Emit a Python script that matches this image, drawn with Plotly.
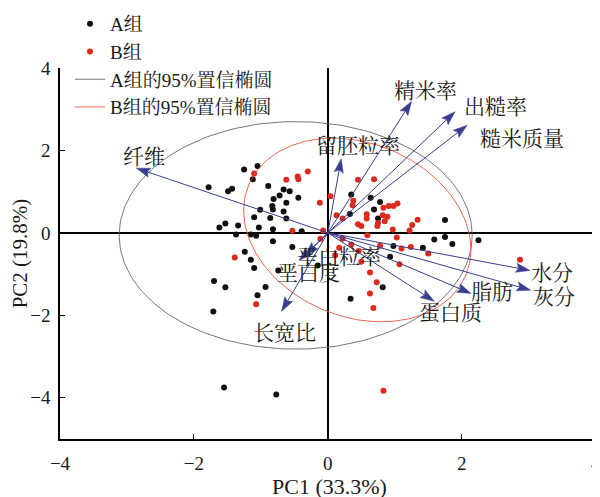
import numpy as np
import plotly.graph_objects as go

# ---------------- data ----------------
A_PC1 = [-1.78, -1.49, -1.43, -1.25, -1.05, -1.12, -0.89, -0.66, -0.57, -0.81,
         -0.72, -0.44, -0.83, -0.82, -1.01, -0.66, -0.86, -1.10, -0.62, -1.62,
         -1.53, -1.34, -1.03, -0.82, -1.37, -1.15, -1.07, -0.39, -0.82, -0.53,
         -1.24, -1.15, -1.10, -0.74, -0.93, -1.05, -1.70, -1.53, -1.71, -0.15,
         -0.62, 0.35, 0.64, 0.78, 0.69, 0.75, 0.33, 1.75, 1.59, 1.75,
         1.86, 1.42, 0.98, 0.93, 0.82, 0.34, 2.25, -1.55, -0.77]
A_PC2 = [1.11, 1.01, 1.07, 1.54, 1.62, 1.30, 1.14, 1.05, 1.01, 0.82,
         0.91, 0.85, 0.65, 0.57, 0.56, 0.52, 0.36, 0.38, 0.35, 0.13,
         0.23, 0.18, 0.13, 0.09, -0.04, -0.04, -0.07, 0.04, -0.20, -0.34,
         -0.46, -0.65, -0.85, -0.91, -1.31, -1.51, -1.17, -1.32, -1.91, -0.79,
         0.73, 0.93, 0.85, 0.75, 0.57, 0.35, 0.46, 0.31, -0.16, -0.10,
         -0.27, -0.36, -0.32, -0.58, -1.32, -1.60, -0.18, -3.75, -3.92]

B_PC1 = [-1.10, -0.62, -0.45, -0.44, -0.30, -0.12, -0.53, -1.39, -1.07, -0.11,
         0.04, 0.45, 0.69, 0.38, 0.37, 0.13, 0.22, 0.58, 0.58, 0.45,
         0.50, 0.75, 0.74, 0.85, 0.82, 0.83, 0.91, 0.98, 1.04, 0.89,
         0.97, 0.59, 1.03, 1.22, 1.26, 1.34, 0.78, 1.10, 1.24, 1.50,
         1.07, 0.17, 0.35, 0.46, 0.50, 0.63, 0.73, 0.63, 0.68, 0.11,
         2.87, 0.83, 0.22, -0.07]
B_PC2 = [1.44, 1.29, 1.37, 1.30, 1.49, 0.73, 0.05, -0.60, -1.73, -0.14,
         0.89, 1.29, 1.30, 0.78, 0.67, 0.43, 0.35, 0.45, 0.35, 0.21,
         0.17, 0.24, 0.17, 0.28, 0.43, 0.61, 0.65, 0.65, 0.71, 0.39,
         0.08, -0.06, -0.11, 0.06, 0.19, 0.32, -0.31, -0.38, -0.34, -0.50,
         -0.76, -0.36, -0.28, -0.44, -0.70, -0.96, -1.20, -1.47, -1.82, -0.54,
         -0.65, -3.83, -0.14, 0.06]

VAR_NAMES = ["纤维", "留胚粒率", "精米率", "出糙率", "糙米质量", "水分",
             "灰分", "脂肪", "蛋白质", "长宽比", "垩白粒率", "垩白度"]
VAR_PC1 = [-2.86, 0.20, 1.25, 1.90, 2.08, 3.02, 3.03, 2.14, 1.59, -0.69, -0.34, -0.43]
VAR_PC2 = [1.57, 1.80, 3.19, 2.94, 2.61, -0.91, -1.39, -1.47, -1.66, -1.90, -0.55, -0.67]

# 95% confidence ellipses: centre and covariance-like shape (sxx, syy, sxy)
ELL_A_CENTER = [-0.48, -0.06]
ELL_A_SHAPE = [6.95, 7.62, 0.0]
ELL_B_CENTER = [0.44, 0.07]
ELL_B_SHAPE = [2.88, 4.96, -0.80]

X_TICKS = [-4, -2, 0, 2, 4]
Y_TICKS = [-4, -2, 0, 2, 4]

# ---------------- styling / layout ----------------
W, H = 600, 497            # browser window
OFF = 8                    # default page body margin
ML, MR, MT, MB = 60, 1, 68, 58   # plot area margins in window pixels
XR = [-4, 4.05]
YR = [-5, 4]
KX = (W - ML - MR) / (XR[1] - XR[0])
KY = (H - MT - MB) / (YR[1] - YR[0])

SERIF = "Liberation Serif, 'Times New Roman', 'Noto Serif CJK SC', 'Noto Sans CJK SC', serif"
ARROW_COLOR = "#393f8e"

# label offsets (pixels) relative to arrow tip
LABEL_SHIFT = {
    "纤维": (8, 11), "留胚粒率": (17, 13), "精米率": (14, 10), "出糙率": (40, 5),
    "糙米质量": (55, -14), "水分": (22, -3), "灰分": (23, -7), "脂肪": (21, 1),
    "蛋白质": (16, -12), "长宽比": (3, -22), "垩白粒率": (34, -1), "垩白度": (9, -12),
}


def ellipse(center, shape, n=200):
    sxx, syy, sxy = shape
    l11 = np.sqrt(sxx)
    l21 = sxy / l11
    l22 = np.sqrt(syy - l21 ** 2)
    t = np.linspace(0, 2 * np.pi, n)
    return center[0] + l11 * np.cos(t), center[1] + l21 * np.cos(t) + l22 * np.sin(t)


fig = go.Figure()

fig.add_trace(go.Scatter(x=A_PC1, y=A_PC2, mode="markers", name="A组",
                         marker=dict(color="#111111", size=6)))
fig.add_trace(go.Scatter(x=B_PC1, y=B_PC2, mode="markers", name="B组",
                         marker=dict(color="#dd2a1f", size=6)))

ex, ey = ellipse(ELL_A_CENTER, ELL_A_SHAPE)
fig.add_trace(go.Scatter(x=ex, y=ey, mode="lines", name="A组的95%置信椭圆",
                         line=dict(color="#666666", width=0.9)))
ex, ey = ellipse(ELL_B_CENTER, ELL_B_SHAPE)
fig.add_trace(go.Scatter(x=ex, y=ey, mode="lines", name="B组的95%置信椭圆",
                         line=dict(color="#e9553f", width=0.9)))

# loading arrows
HEAD_L, HEAD_W, NOTCH = 14.0, 4.6, 2.5
lx, ly, hx, hy = [], [], [], []
for tx, ty in zip(VAR_PC1, VAR_PC2):
    px, py = tx * KX, ty * KY
    nrm = np.hypot(px, py)
    ux, uy = px / nrm, py / nrm
    nx, ny = -uy, ux
    bx, by = px - (HEAD_L - NOTCH) * ux, py - (HEAD_L - NOTCH) * uy
    lx += [0, bx / KX, None]
    ly += [0, by / KY, None]
    pts = [(px, py),
           (px - HEAD_L * ux + HEAD_W * nx, py - HEAD_L * uy + HEAD_W * ny),
           (bx, by),
           (px - HEAD_L * ux - HEAD_W * nx, py - HEAD_L * uy - HEAD_W * ny),
           (px, py)]
    hx += [p[0] / KX for p in pts] + [None]
    hy += [p[1] / KY for p in pts] + [None]

fig.add_trace(go.Scatter(x=lx, y=ly, mode="lines", showlegend=False, hoverinfo="skip",
                         line=dict(color=ARROW_COLOR, width=1)))
fig.add_trace(go.Scatter(x=hx, y=hy, mode="lines", fill="toself", fillcolor=ARROW_COLOR,
                         showlegend=False, hoverinfo="skip",
                         line=dict(color=ARROW_COLOR, width=0.5)))

for name, tx, ty in zip(VAR_NAMES, VAR_PC1, VAR_PC2):
    sx, sy = LABEL_SHIFT[name]
    fig.add_annotation(x=tx, y=ty, xref="x", yref="y", text=name, showarrow=False,
                       xshift=sx, yshift=sy,
                       font=dict(family=SERIF, size=21, color="#1a1a1a"))

axis_common = dict(showgrid=False, showline=True, linecolor="black", linewidth=1.5,
                   ticks="inside", ticklen=5, tickwidth=1.2, tickcolor="black",
                   zeroline=True, zerolinecolor="black", zerolinewidth=2,
                   tickfont=dict(family=SERIF, size=19, color="#1a1a1a"),
                   ticklabeloverflow="allow",
                   mirror=False, automargin=False)

PW = W - ML - MR
PH = H - MT - MB
# figure is drawn OFF px right/down of the window origin; extend it past the
# window edges so nothing near the right/bottom edge is clipped by the svg
fig.update_layout(
    width=W, height=H,
    margin=dict(l=ML - OFF, r=MR + OFF, t=MT - OFF, b=MB + OFF, pad=0, autoexpand=False),
    paper_bgcolor="white", plot_bgcolor="white",
    xaxis=dict(range=XR, tickvals=X_TICKS, ticklabelstandoff=6,
               title=dict(text="PC1 (33.3%)", standoff=1,
                          font=dict(family=SERIF, size=22, color="#1a1a1a")),
               **axis_common),
    yaxis=dict(range=YR, tickvals=Y_TICKS, ticklabelstandoff=4,
               title=dict(text="PC2 (19.8%)", standoff=0,
                          font=dict(family=SERIF, size=21, color="#1a1a1a")),
               **axis_common),
    legend=dict(x=(70 - ML) / PW, y=1 + (MT - OFF + 3) / PH,
                xanchor="left", yanchor="top",
                bgcolor="rgba(0,0,0,0)", tracegroupgap=0,
                font=dict(family=SERIF, size=19, color="#1a1a1a")),
    showlegend=True,
)

fig.write_html("out.html")
